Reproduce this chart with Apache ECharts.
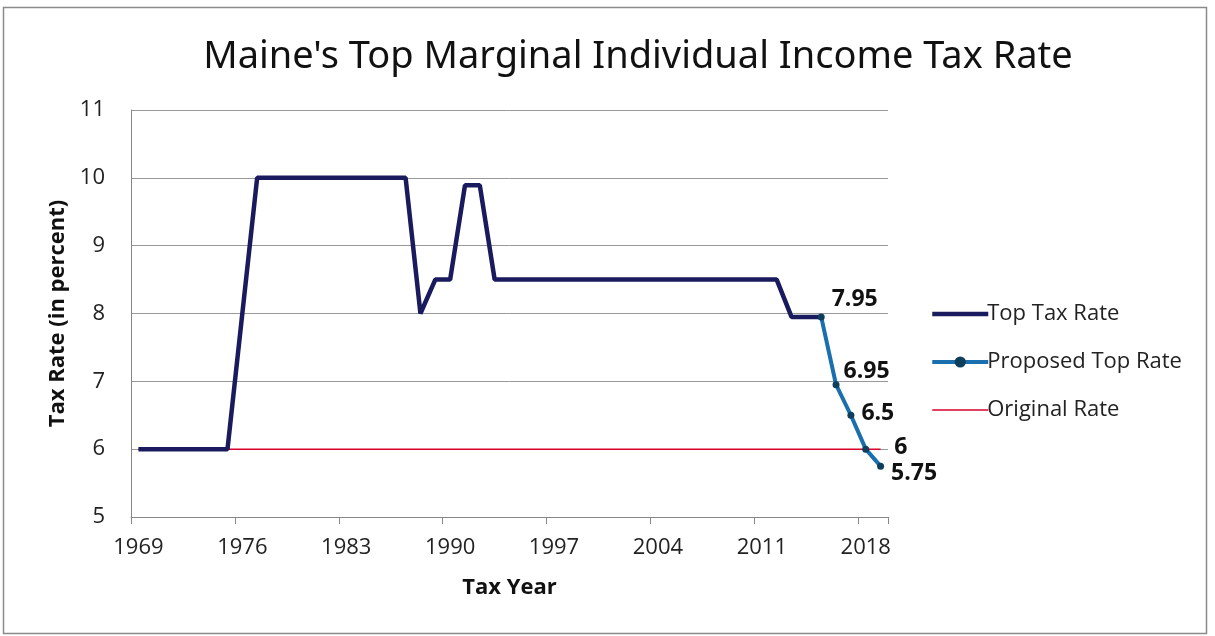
<!DOCTYPE html>
<html>
<head>
<meta charset="utf-8">
<script src="https://cdn.jsdelivr.net/npm/echarts@6/dist/echarts.min.js"></script>
<style>
  html, body { margin: 0; padding: 0; background: #fff; }
  #main { width: 1215px; height: 636px; }
</style>
</head>
<body>
<div id="main"></div>
<script>
// years 1969..2019
var years = [];
for (var y = 1969; y <= 2019; y++) years.push(String(y));

// top tax rate, 1969-2015 (1976 not plotted, line joins 1975 to 1977)
var topRate = [
  6, 6, 6, 6, 6, 6, 6, null, 10, 10,        // 1969-1978
  10, 10, 10, 10, 10, 10, 10, 10, 10, 8,    // 1979-1988
  8.5, 8.5, 9.89, 9.89, 8.5, 8.5, 8.5, 8.5, 8.5, 8.5, // 1989-1998
  8.5, 8.5, 8.5, 8.5, 8.5, 8.5, 8.5, 8.5, 8.5, 8.5,   // 1999-2008
  8.5, 8.5, 8.5, 8.5, 7.95, 7.95, 7.95      // 2009-2015
];
// proposed top rate, 2015-2019
var proposedYears = ['2015', '2016', '2017', '2018', '2019'];
var proposedRate = [7.95, 6.95, 6.5, 6, 5.75];
var originalRate = 6;

var chart = echarts.init(document.getElementById('main'));

// label nudges for the proposed points
var labelOffsets = [[2, -17], [-1, -13], [2, -2], [20, -2], [2, 7]];

var topData = years.map(function (yr, i) {
  return i < topRate.length ? topRate[i] : '-';
});
var proposedData = years.map(function (yr) {
  var k = proposedYears.indexOf(yr);
  if (k < 0) return '-';
  return {
    value: proposedRate[k],
    label: { show: true, position: 'right', offset: labelOffsets[k] }
  };
});
var originalData = years.map(function () { return originalRate; });

var font = '"Open Sans", "Noto Sans", sans-serif';

var option = {
  backgroundColor: '#fff',
  animation: false,
  title: {
    text: "Maine's Top Marginal Individual Income Tax Rate",
    left: 633,
    textAlign: 'center',
    top: 33,
    textStyle: {
      fontFamily: '"Noto Sans", sans-serif',
      fontSize: 38,
      fontWeight: 'normal',
      color: '#111'
    }
  },
  graphic: [{
    type: 'rect',
    shape: { x: 3.5, y: 7.5, width: 1203, height: 626 },
    style: { fill: 'none', stroke: '#8a8a8a', lineWidth: 1.5 },
    silent: true
  }],
  legend: {
    orient: 'vertical',
    left: 925,
    top: 296,
    itemWidth: 56,
    itemHeight: 14,
    itemGap: 22,
    textStyle: { fontFamily: font, fontSize: 22, lineHeight: 26, color: '#222', padding: [0, 0, 0, -6] },
    data: [
      { name: 'Top Tax Rate', itemStyle: { opacity: 0 }, lineStyle: { width: 4.5 } },
      { name: 'Proposed Top Rate', lineStyle: { width: 4 } },
      { name: 'Original Rate', itemStyle: { opacity: 0 }, lineStyle: { width: 1.5 } }
    ]
  },
  grid: { left: 131, right: 327, top: 110, bottom: 119 },
  xAxis: {
    type: 'category',
    data: years,
    boundaryGap: true,
    name: 'Tax Year',
    nameLocation: 'middle',
    nameGap: 60,
    nameTextStyle: { fontFamily: font, fontSize: 22, fontWeight: 'bold', color: '#111' },
    axisLine: { lineStyle: { color: '#888', width: 1 } },
    axisTick: { show: true, interval: 6, length: 7, lineStyle: { color: '#888' } },
    axisLabel: { interval: 6, fontFamily: font, fontSize: 22, color: '#222', margin: 20 },
    splitLine: { show: false }
  },
  yAxis: {
    type: 'value',
    min: 5,
    max: 11,
    interval: 1,
    name: 'Tax Rate (in percent)',
    nameLocation: 'middle',
    nameGap: 62,
    nameTextStyle: { fontFamily: font, fontSize: 22, fontWeight: 'bold', color: '#111' },
    axisLine: { show: true, lineStyle: { color: '#888', width: 1 } },
    axisTick: { show: false },
    axisLabel: { fontFamily: font, fontSize: 22, color: '#222', margin: 26 },
    splitLine: { lineStyle: { color: '#999', width: 1 } }
  },
  series: [
    {
      name: 'Original Rate',
      type: 'line',
      data: originalData,
      symbol: 'none',
      color: '#d9002b',
      lineStyle: { width: 1.5, color: '#d9002b' },
      z: 1
    },
    {
      name: 'Top Tax Rate',
      type: 'line',
      data: topData,
      connectNulls: true,
      symbol: 'none',
      color: '#1a1a5e',
      lineStyle: { width: 4.5, color: '#1a1a5e' },
      z: 2
    },
    {
      name: 'Proposed Top Rate',
      type: 'line',
      data: proposedData,
      symbol: 'circle',
      symbolSize: 7,
      color: '#1a6fae',
      itemStyle: { color: '#0d3f5c' },
      lineStyle: { width: 4, color: '#1a6fae' },
      label: {
        fontFamily: font,
        fontSize: 23,
        fontWeight: 'bold',
        color: '#111'
      },
      z: 3
    }
  ]
};

chart.setOption(option);
</script>
</body>
</html>
